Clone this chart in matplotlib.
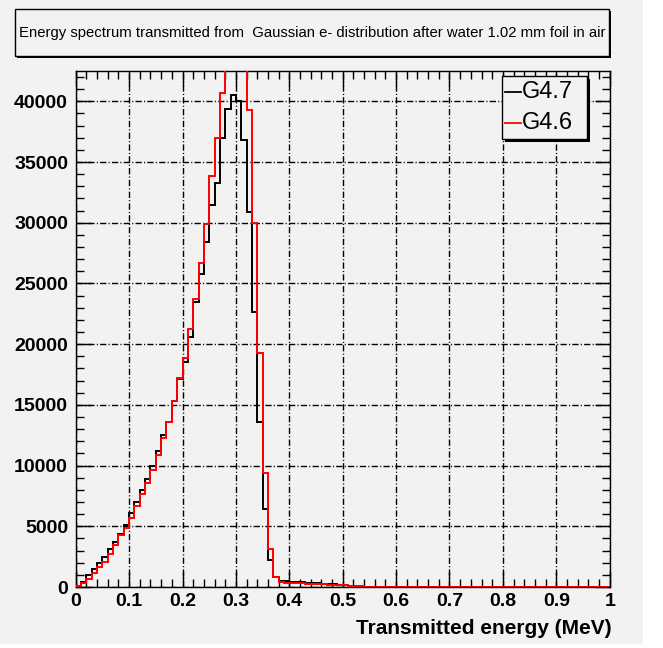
import numpy as np
import matplotlib
matplotlib.use("Agg")
import matplotlib.pyplot as plt
from matplotlib.patches import Rectangle
from matplotlib.lines import Line2D

# ---- data (bin contents, bin width 0.01 MeV, 0..1 MeV) ----
g47_counts = [100, 450, 1000, 1500, 2000, 2500, 3100, 3700, 4400, 5100,
              6100, 7000, 8000, 8900, 9950, 11200, 12500, 13600, 15300, 17100,
              18550, 20600, 23450, 25750, 28400, 31450, 33300, 36950, 39350, 40500,
              40000, 36850, 30900, 22650, 13600, 6450, 2250, 800, 500, 480,
              450, 430, 400, 370, 340, 310, 280, 250, 220, 190,
              160, 120, 60, 30, 10]
g46_counts = [100, 300, 700, 1150, 1650, 2100, 2700, 3500, 4250, 4900,
              5700, 6650, 7650, 8600, 9650, 10850, 12300, 13600, 15300, 17250,
              18850, 21250, 23700, 26700, 29900, 33850, 36950, 40650, 45000, 48000,
              47000, 44000, 39300, 30000, 19300, 9400, 3150, 850, 400, 350,
              330, 320, 300, 280, 260, 240, 220, 200, 180, 160,
              140, 120, 100, 70, 40]
n_bins = 100
x_min, x_max = 0.0, 1.0
series_labels = ["G4.7", "G4.6"]
title_text = "Energy spectrum transmitted from  Gaussian e- distribution after water 1.02 mm foil in air"
xlabel_text = "Transmitted energy (MeV)"
y_ticks = [0, 5000, 10000, 15000, 20000, 25000, 30000, 35000, 40000]
x_ticks = [0, 0.1, 0.2, 0.3, 0.4, 0.5, 0.6, 0.7, 0.8, 0.9, 1]
x_tick_labels = ["0", "0.1", "0.2", "0.3", "0.4", "0.5", "0.6", "0.7", "0.8", "0.9", "1"]

edges = np.linspace(x_min, x_max, n_bins + 1)
h47 = np.zeros(n_bins); h47[:len(g47_counts)] = g47_counts
h46 = np.zeros(n_bins); h46[:len(g46_counts)] = g46_counts

W, H = 663, 648
BG = (0.95, 0.95, 0.95)
fig = plt.figure(figsize=(W / 100, H / 100), dpi=100)
fig.patch.set_facecolor("white")

def fx(x):
    return x / W

def fy(y):
    return 1 - y / H

# gray canvas
fig.patches.append(Rectangle((0, fy(644)), fx(643), 1 - fy(644), transform=fig.transFigure,
                             facecolor=BG, edgecolor="none", zorder=-10))

ax_l, ax_r, ax_t, ax_b = 75.7, 609.7, 71, 587
ax = fig.add_axes([fx(ax_l), fy(ax_b), fx(ax_r - ax_l), fy(ax_t) - fy(ax_b)])
ax.set_facecolor(BG)

ax.stairs(h47, edges, color="black", linewidth=1.4, zorder=3)
ax.stairs(h46, edges, color="#ff0000", linewidth=1.4, zorder=4)

ax.set_xlim(x_min, x_max)
ax.set_ylim(0, 42500)

ax.set_xticks(x_ticks)
ax.set_xticklabels(x_tick_labels)
ax.set_yticks(y_ticks)
ax.set_yticklabels([str(v) for v in y_ticks])
ax.set_xticks(np.arange(0, 1.0001, 0.02), minor=True)
ax.set_yticks(np.arange(0, 42001, 1000), minor=True)

tick_font = dict(family="Liberation Sans", weight="bold", size=14)
for lab in ax.get_xticklabels() + ax.get_yticklabels():
    lab.set_fontproperties(matplotlib.font_manager.FontProperties(**tick_font))

ax.tick_params(which="both", direction="in", top=True, right=True, color="black", width=1)
ax.tick_params(which="major", length=11)
ax.tick_params(which="minor", length=6)
ax.tick_params(axis="x", which="major", pad=4)
ax.tick_params(axis="y", which="major", pad=5.5)

ax.grid(True, which="major", color="black", linewidth=1.0, linestyle=(0, (4.5, 1.6, 0.8, 1.6)), zorder=1)
ax.set_axisbelow(True)
for s in ax.spines.values():
    s.set_linewidth(1.0)
    s.set_color("black")

# x label (right aligned like ROOT)
fig.text(fx(611.5), fy(628), xlabel_text, ha="right", va="center",
         family="Liberation Sans", weight="bold", fontsize=15)

# title box with shadow
tb_l, tb_r, tb_t, tb_b = 15, 609, 9, 56
sh = 2
fig.patches.append(Rectangle((fx(tb_l + sh), fy(tb_b + sh)), fx(tb_r - tb_l), fy(tb_t) - fy(tb_b),
                             transform=fig.transFigure, facecolor="black", edgecolor="none", zorder=5))
fig.patches.append(Rectangle((fx(tb_l), fy(tb_b)), fx(tb_r - tb_l), fy(tb_t) - fy(tb_b),
                             transform=fig.transFigure, facecolor=BG, edgecolor="black", linewidth=1, zorder=6))
fig.text(fx((tb_l + tb_r) / 2), fy(33), title_text, ha="center", va="center",
         family="Liberation Sans", fontsize=10.7, zorder=7)

# legend box with shadow
lg_l, lg_r, lg_t, lg_b = 502, 587, 76, 139
sh = 3
fig.patches.append(Rectangle((fx(lg_l + sh), fy(lg_b + sh)), fx(lg_r - lg_l), fy(lg_t) - fy(lg_b),
                             transform=fig.transFigure, facecolor="black", edgecolor="none", zorder=5))
fig.patches.append(Rectangle((fx(lg_l), fy(lg_b)), fx(lg_r - lg_l), fy(lg_t) - fy(lg_b),
                             transform=fig.transFigure, facecolor=BG, edgecolor="black", linewidth=1, zorder=6))
for label, col, yy in zip(series_labels, ["black", "#ff0000"], [92, 123]):
    fig.lines.append(Line2D([fx(505), fx(521)], [fy(yy), fy(yy)], transform=fig.transFigure,
                            color=col, linewidth=1.3, zorder=7))
    fig.text(fx(522), fy(yy), label, ha="left", va="center",
             family="Liberation Sans", fontsize=17, zorder=7)

fig.savefig("out.png", dpi=100, facecolor=fig.get_facecolor())
